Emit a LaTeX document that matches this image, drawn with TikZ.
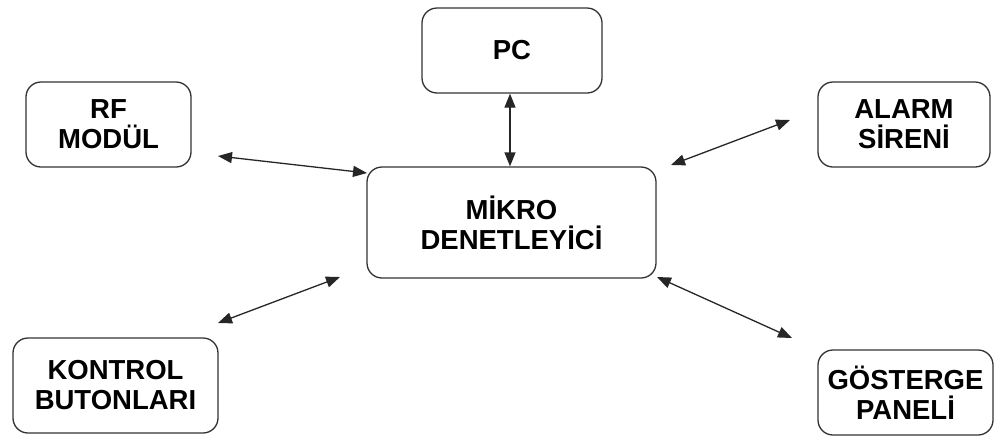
\documentclass[tikz,border=0pt]{standalone}
\usepackage{fontspec}
\setmainfont{Liberation Sans}
\usetikzlibrary{arrows.meta}
\begin{document}
\begin{tikzpicture}[x=1pt,y=-1pt,
  blok/.style={draw=black!80, line width=1.3pt, rounded corners=15pt,
    align=center, inner sep=0pt, font=\fontsize{27.5}{30}\selectfont\bfseries},
  ok/.style={line width=1.3pt, draw=black!85,
    {Triangle[length=14pt,width=11pt]}-{Triangle[length=14pt,width=11pt]}}]
  \useasboundingbox (0,0) rectangle (998,437);
  % blocks
  \node[blok, minimum width=180pt, minimum height=85pt] (pc) at (512,50.5) {PC};
  \node[blok, minimum width=165pt, minimum height=85pt] (rf) at (108.5,124.5) {RF\\MODÜL};
  \node[blok, minimum width=172pt, minimum height=85pt] (alarm) at (904,124.5) {ALARM\\SİRENİ};
  \node[blok, minimum width=289pt, minimum height=111pt] (mcu) at (511.5,222.5) {MİKRO\\DENETLEYİCİ};
  \node[blok, minimum width=205pt, minimum height=95pt] (kb) at (115.5,385.5) {KONTROL\\BUTONLARI};
  \node[blok, minimum width=175pt, minimum height=85pt] (gp) at (905.5,392.5) {GÖSTERGE\\PANELİ};
  % arrow end points
  \coordinate (rfA) at (218,156);
  \coordinate (rfB) at (367,173);
  \coordinate (alA) at (790,120);
  \coordinate (alB) at (671,165);
  \coordinate (kbA) at (218,323);
  \coordinate (kbB) at (340,277);
  \coordinate (gpA) at (657,277);
  \coordinate (gpB) at (792,338);
  % connections
  \draw[ok] (pc.south -| 510,0) -- (mcu.north -| 510,0);
  \draw[ok] (rfA) -- (rfB);
  \draw[ok] (alB) -- (alA);
  \draw[ok] (kbA) -- (kbB);
  \draw[ok] (gpA) -- (gpB);
\end{tikzpicture}
\end{document}
